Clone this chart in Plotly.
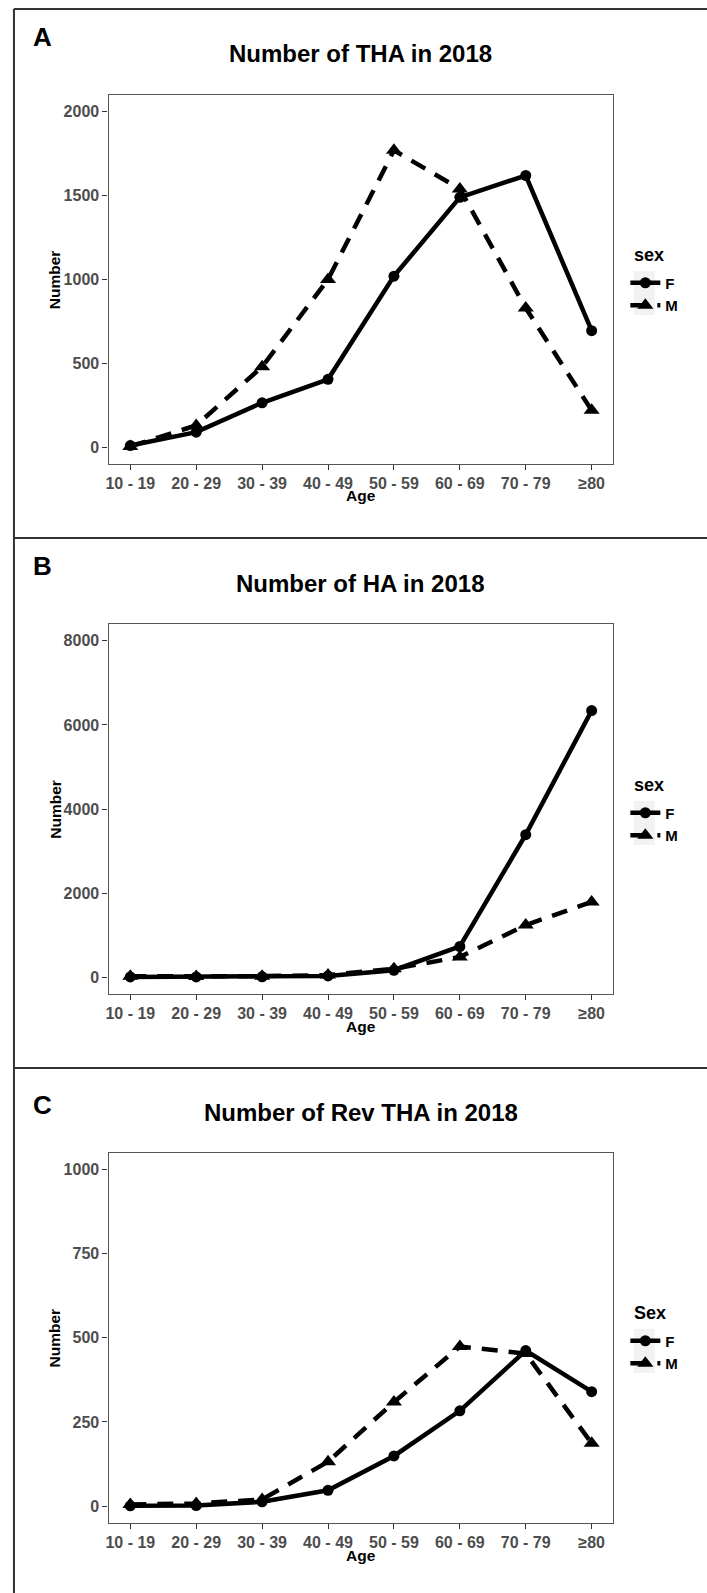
import plotly.graph_objects as go

W, H = 707, 1593

ages = ["10 - 19", "20 - 29", "30 - 39", "40 - 49", "50 - 59", "60 - 69", "70 - 79", "≥80"]

tha_f = [10, 90, 265, 405, 1020, 1490, 1620, 695]
tha_m = [5, 130, 480, 1000, 1770, 1540, 830, 220]

ha_f = [5, 5, 10, 30, 165, 730, 3390, 6340]
ha_m = [20, 15, 25, 50, 200, 480, 1240, 1790]

rev_f = [1, 2, 13, 47, 149, 283, 462, 340]
rev_m = [5, 8, 20, 132, 309, 474, 453, 187]

panel_titles = ["Number of THA in 2018", "Number of HA in 2018", "Number of Rev THA in 2018"]
panel_letters = ["A", "B", "C"]
legend_titles = ["sex", "sex", "Sex"]
y_max = [2000, 8000, 1000]
y_ticks = [[0, 500, 1000, 1500, 2000], [0, 2000, 4000, 6000, 8000], [0, 250, 500, 750, 1000]]

FONT = "Liberation Sans, Arial, sans-serif"
TICK_COLOR = "#4D4D4D"
BORDER = "#555555"


def px(x):
    return x / W


def py(y):
    return 1 - y / H


# plot area pixel boxes (top, bottom)
panels_y = [(95, 464), (624, 994), (1152.5, 1523)]
plot_x = (106, 613)
title_y = [53, 583, 1112]
letter_y = [37, 566, 1105]
age_y = [496, 1026, 1555]
legend_title_y = [255, 785, 1313]
legend_item_top = [266.5, 796.5, 1324.5]

fig = go.Figure()

data_sets = [(tha_f, tha_m), (ha_f, ha_m), (rev_f, rev_m)]
for i, (f_vals, m_vals) in enumerate(data_sets):
    sfx = "" if i == 0 else str(i + 1)
    leg = "legend" if i == 0 else f"legend{i + 1}"
    fig.add_trace(go.Scatter(
        x=ages, y=f_vals, mode="lines+markers", name="F",
        line=dict(color="black", width=4.5),
        marker=dict(symbol="circle", size=11, color="black"),
        xaxis="x" + sfx, yaxis="y" + sfx, legend=leg,
    ))
    fig.add_trace(go.Scatter(
        x=ages, y=m_vals, mode="lines+markers", name="M",
        line=dict(color="black", width=4.5, dash="16px,11px"),
        marker=dict(symbol="triangle-up", size=14, color="black"),
        xaxis="x" + sfx, yaxis="y" + sfx, legend=leg,
    ))

layout = dict(
    width=W, height=H,
    margin=dict(l=0, r=0, t=0, b=0),
    paper_bgcolor="white", plot_bgcolor="white",
    font=dict(family=FONT, color="black"),
    showlegend=True,
)

annotations = []
shapes = []

for i in range(3):
    sfx = "" if i == 0 else str(i + 1)
    top, bot = panels_y[i]
    ym = y_max[i]
    layout["xaxis" + sfx] = dict(
        domain=[px(plot_x[0]), px(plot_x[1])],
        anchor="y" + sfx,
        type="category",
        categoryorder="array", categoryarray=ages,
        range=[-0.33, 7.33],
        showgrid=False, zeroline=False,
        showline=True, linecolor=BORDER, linewidth=1.3, mirror=True,
        ticks="outside", ticklen=5, tickcolor="#333333", tickwidth=1.2,
        tickfont=dict(family=FONT, size=16, color=TICK_COLOR, weight="bold"),
    )
    layout["yaxis" + sfx] = dict(
        domain=[py(bot), py(top)],
        anchor="x" + sfx,
        range=[-0.05 * ym, 1.05 * ym],
        tickvals=y_ticks[i],
        showgrid=False, zeroline=False,
        showline=True, linecolor=BORDER, linewidth=1.3, mirror=True,
        ticks="outside", ticklen=5, tickcolor="#333333", tickwidth=1.2,
        tickfont=dict(family=FONT, size=16, color=TICK_COLOR, weight="bold"),
    )
    leg = "legend" if i == 0 else f"legend{i + 1}"
    layout[leg] = dict(
        x=px(625), y=py(legend_item_top[i]), xanchor="left", yanchor="top",
        bgcolor="rgba(0,0,0,0)",
        font=dict(family=FONT, size=15, color="black", weight="bold"),
        itemwidth=30,
    )
    # title
    annotations.append(dict(
        text=panel_titles[i], x=px((plot_x[0] + plot_x[1]) / 2), y=py(title_y[i]),
        xref="paper", yref="paper", xanchor="center", yanchor="middle", showarrow=False,
        font=dict(family=FONT, size=24, color="black", weight="bold"),
    ))
    # letter
    annotations.append(dict(
        text=panel_letters[i], x=px(28), y=py(letter_y[i]),
        xref="paper", yref="paper", xanchor="left", yanchor="middle", showarrow=False,
        font=dict(family=FONT, size=26, color="black", weight="bold"),
    ))
    # axis titles
    annotations.append(dict(
        text="Age", x=px((plot_x[0] + plot_x[1]) / 2), y=py(age_y[i]),
        xref="paper", yref="paper", xanchor="center", yanchor="middle", showarrow=False,
        font=dict(family=FONT, size=15.5, color="black", weight="bold"),
    ))
    annotations.append(dict(
        text="Number", x=px(52), y=py((top + bot) / 2), textangle=-90,
        xref="paper", yref="paper", xanchor="center", yanchor="middle", showarrow=False,
        font=dict(family=FONT, size=15.5, color="black", weight="bold"),
    ))
    # legend title
    annotations.append(dict(
        text=legend_titles[i], x=px(632), y=py(legend_title_y[i]),
        xref="paper", yref="paper", xanchor="left", yanchor="middle", showarrow=False,
        font=dict(family=FONT, size=18, color="black", weight="bold"),
    ))
    # legend key background
    kt = legend_title_y[i] + 16
    shapes.append(dict(
        type="rect", xref="paper", yref="paper", layer="below",
        x0=px(633.5), x1=px(654.5), y0=py(kt), y1=py(kt + 44),
        fillcolor="#F2F2F2", line=dict(width=0),
    ))

# frame lines
frame_color = "#333333"
shapes.append(dict(type="line", xref="paper", yref="paper", x0=px(11), x1=1, y0=py(9), y1=py(9),
                   line=dict(color=frame_color, width=2)))
shapes.append(dict(type="line", xref="paper", yref="paper", x0=px(11), x1=px(11), y0=py(9), y1=0,
                   line=dict(color=frame_color, width=2)))
for ysep in (538, 1068):
    shapes.append(dict(type="line", xref="paper", yref="paper", x0=px(11), x1=1, y0=py(ysep), y1=py(ysep),
                       line=dict(color=frame_color, width=2)))

layout["annotations"] = annotations
layout["shapes"] = shapes
fig.update_layout(**layout)

fig.write_html("out.html", config={"displayModeBar": False},
               post_script="document.body.style.margin='0px';")
